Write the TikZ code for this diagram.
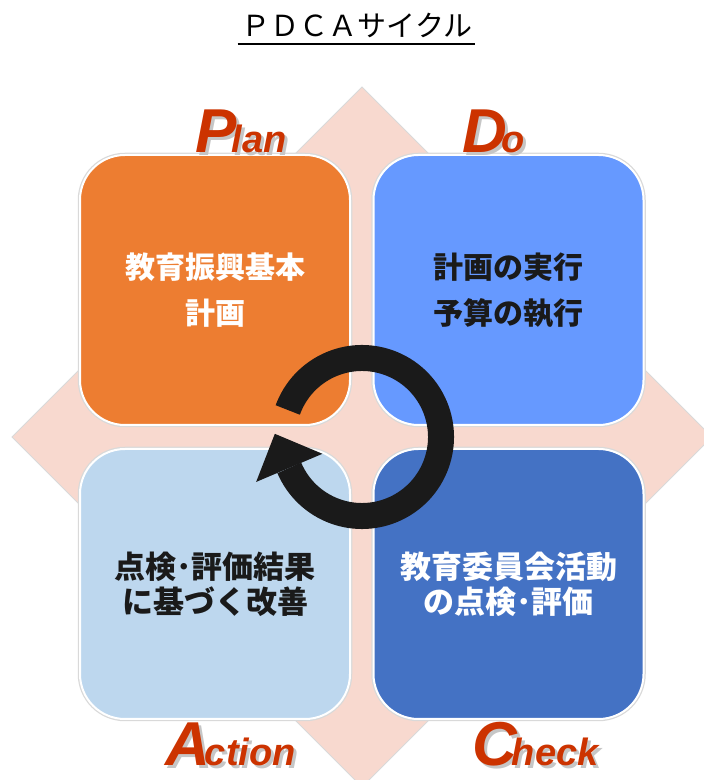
\documentclass[tikz,border=0pt]{standalone}
\usepackage{fontspec}
\usetikzlibrary{calc}
\newfontfamily\jpfont{Noto Sans CJK JP}
\newfontfamily\labelfont{Liberation Sans}
\definecolor{planorange}{HTML}{ED7D31}
\definecolor{doblue}{HTML}{6699FF}
\definecolor{checkblue}{HTML}{4472C4}
\definecolor{actionblue}{HTML}{BDD7EE}
\definecolor{diamondpink}{HTML}{F8D9CF}
\definecolor{labelred}{HTML}{CC3300}
\definecolor{arrowblack}{HTML}{1A1A1A}
\begin{document}
\begin{tikzpicture}[x=1pt,y=1pt,
            box node/.style={rectangle, rounded corners=45pt, minimum width=270pt, minimum height=270pt, inner sep=0pt, align=center, draw=white, line width=2pt, preaction={draw=gray!30, line width=4.5pt}},
            wide text/.style={font=\jpfont\bfseries\fontsize{30}{46}\selectfont},
            tight text/.style={font=\jpfont\bfseries\fontsize{31}{35}\selectfont},
            pdca label/.style={anchor=base west, inner sep=0pt, text=labelred, font=\labelfont\bfseries\itshape},
            pdca shadow/.style={pdca label, text=gray!45},
            ]
            \useasboundingbox (0,0) rectangle (704,780);
            \clip (0,0) rectangle (704,780);
            \def\big#1{{\fontsize{62}{62}\selectfont #1}\kern-5pt}
            \def\small#1{{\fontsize{38}{38}\selectfont #1}}

            % title
            \node[font=\jpfont\fontsize{29}{29}\selectfont, anchor=base, inner sep=0pt] (title) at (357,743) {ＰＤＣＡサイクル};
            \draw[line width=2.5pt] ($(title.base west)+(-4,-7)$) -- ($(title.base east)+(3,-7)$);

            % background diamond
            \coordinate (hub) at (362,343);
            \fill[diamondpink, draw=gray!30, line width=0.8pt] ($(hub)+(0,350)$) -- ($(hub)+(350,0)$) -- ($(hub)+(0,-350)$) -- ($(hub)+(-350,0)$) -- cycle;

            % four boxes
            \node[box node, fill=planorange, text=white, wide text] (plan) at (215,490) {教育振興基本\\計画};
            \node[box node, fill=doblue, text=arrowblack, wide text] (do) at (508.5,490) {計画の実行\\予算の執行};
            \node[box node, fill=actionblue, text=arrowblack, tight text] (action) at (215,196) {点検･評価結果\\に基づく改善};
            \node[box node, fill=checkblue, text=white, tight text] (check) at (508.5,196) {教育委員会活動\\の点検･評価};

            % cycle arrow
            \draw[arrowblack, line width=26pt] ($(hub)+(160:79)$) arc[start angle=160, end angle=-157, radius=79];
            \fill[arrowblack] ($(hub)+(-157:43)$) -- ($(hub)+(-157:115)$) -- ($(hub)+(-157:79)+(113:37)$) -- cycle;

            % labels
            \node[pdca shadow] (plan shadow) at (198,624) {\big{P}\small{lan}};
            \node[pdca label] (plan label) at (195,627) {\big{P}\small{lan}};
            \node[pdca shadow] (do shadow) at (465,624) {\big{D}\small{o}};
            \node[pdca label] (do label) at (462,627) {\big{D}\small{o}};
            \node[pdca shadow] (action shadow) at (168,12) {\big{A}\small{ction}};
            \node[pdca label] (action label) at (165,15) {\big{A}\small{ction}};
            \node[pdca shadow] (check shadow) at (475,12) {\big{C}\small{heck}};
            \node[pdca label] (check label) at (472,15) {\big{C}\small{heck}};
        \end{tikzpicture}
\end{document}
